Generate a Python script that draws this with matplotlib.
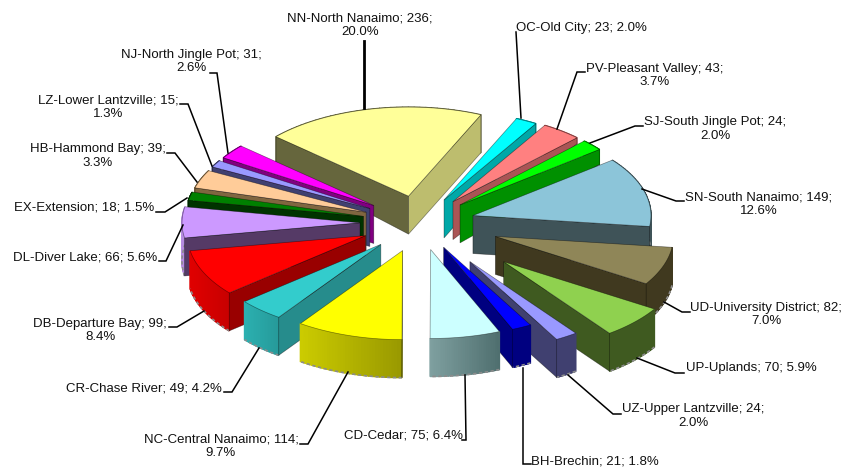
#Exploded 3D look pie chart of residents per neighbourhood.
import numpy as np
import matplotlib
matplotlib.use("Agg")
import matplotlib.pyplot as plt
from matplotlib.patches import Polygon

plt.rcParams['font.family'] = ['Liberation Sans', 'DejaVu Sans']

#The data, clockwise from the top of the pie.
names = ["OC-Old City", "PV-Pleasant Valley", "SJ-South Jingle Pot", "SN-South Nanaimo",
         "UD-University District", "UP-Uplands", "UZ-Upper Lantzville", "BH-Brechin",
         "CD-Cedar", "NC-Central Nanaimo", "CR-Chase River", "DB-Departure Bay",
         "DL-Diver Lake", "EX-Extension", "HB-Hammond Bay", "LZ-Lower Lantzville",
         "NJ-North Jingle Pot", "NN-North Nanaimo"]
counts = [23, 43, 24, 149, 82, 70, 24, 21, 75, 114, 49, 99, 66, 18, 39, 15, 31, 236]
percents = ["2.0%", "3.7%", "2.0%", "12.6%", "7.0%", "5.9%", "2.0%", "1.8%", "6.4%",
            "9.7%", "4.2%", "8.4%", "5.6%", "1.5%", "3.3%", "1.3%", "2.6%", "20.0%"]

#How far each slice is pulled out of the pie.
explode = [52, 54, 54, 55, 80, 114, 92, 54, 54, 58, 58, 60, 60, 58, 58, 58, 58, 55]

#Colours of the top, of the two straight walls and of the curved wall (left to right).
top_cols = ["#00FFFF", "#FF8080", "#00FF00", "#8CC5D9", "#8F8658", "#8FD14F", "#9999FF", "#0000FF",
            "#CCFFFF", "#FFFF00", "#33CCCC", "#FF0000", "#CC99FF", "#008000", "#FFCC99", "#9999FF",
            "#FF00FF", "#FFFF99"]
start_cols = ["#00A8A8", "#AA5555", "#009000", "#3F5358", "#40391F", "#3F5A20", "#404070", "#000080",
              "#6E9090", "#A8A800", "#268C8C", "#990000", "#553A66", "#003300", "#806640", "#404070",
              "#800080", "#66663D"]
end_cols = ["#00A8A8", "#AA5555", "#009000", "#3F5358", "#40391F", "#3F5A20", "#404070", "#000080",
            "#6E9090", "#A8A800", "#268C8C", "#990000", "#553A66", "#003300", "#806640", "#404070",
            "#800080", "#BDBD6E"]
outer_left = ["#00A8A8", "#AA5555", "#009000", "#3F5358", "#40391F", "#3F5A20", "#404070", "#000080",
              "#7FA0A0", "#CCCC00", "#2BB0B0", "#E00000", "#B58BE0", "#003300", "#806640", "#404070",
              "#800080", "#66663D"]
outer_right = ["#00A8A8", "#AA5555", "#009000", "#3F5358", "#40391F", "#3F5A20", "#404070", "#000080",
               "#4F6F6F", "#999900", "#269A9A", "#C80000", "#B58BE0", "#003300", "#806640", "#404070",
               "#800080", "#66663D"]

#The wall gets shorter towards the rim on the far slices.
rim_h_start = [38, 38, 38, 38, 38, 38, 38, 38, 38, 38, 38, 38, 38, 38, 38, 38, 38, 28]
rim_h_end = [10, 6, 15, 38, 38, 38, 38, 38, 38, 38, 38, 38, 38, 38, 38, 38, 38, 38]

#Where the data labels sit and the leader lines that join them to their slice.
label_xy = [(581, 28), (655, 75.5), (715, 129), (759, 204.5), (766, 314.5), (751, 368), (693, 416),
            (595, 461), (404, 436), (221, 446.5), (144, 388.5), (100, 330.5), (85, 257), (84, 207),
            (98, 156), (108, 107), (191, 61.5), (360, 25.5)]
one_line = [0, 5, 7, 8, 10, 12, 13]
leaders = [[(516, 32), (521, 118)],
           [(585, 72), (577, 72), (557, 129)],
           [(643, 126), (635, 126), (590, 143)],
           [(684, 201), (676, 201), (642, 189)],
           [(690, 312), (682, 312), (664, 302)],
           [(684, 373), (675, 373), (637, 358)],
           [(621, 414), (613, 414), (568, 375)],
           [(523, 368), (523, 464), (531, 464)],
           [(465, 375), (466, 440), (462, 440)],
           [(300, 444), (308, 444), (348, 372)],
           [(224, 392), (232, 392), (259, 348)],
           [(169, 327), (177, 327), (204, 311)],
           [(159, 261), (166, 261), (183, 225)],
           [(156, 212), (165, 212), (187, 198)],
           [(167, 153), (175, 153), (197, 182)],
           [(180, 104), (188, 104), (212, 166)],
           [(210, 73), (217, 73), (228, 153)],
           [(364, 41), (364, 108)]]

#The pie itself, in pixels of the picture.
center_x, center_y = 420, 223
radius = 178
squash = 0.5
first_angle = 24
apex_h = 38


def point(theta, r, ox, oy):
    t = np.radians(theta)
    return ox + r * np.sin(t), oy - r * squash * np.cos(t)


def mix(c1, c2, f):
    a = np.array(matplotlib.colors.to_rgb(c1))
    b = np.array(matplotlib.colors.to_rgb(c2))
    return tuple(a + (b - a) * f)


fig = plt.figure(figsize=(8.44, 4.68), dpi=100)
ax = fig.add_axes([0, 0, 1, 1])
ax.set_xlim(0, 844)
ax.set_ylim(468, 0)
ax.axis("off")

sweeps = np.array(counts) / sum(counts) * 360
starts = first_angle + np.concatenate(([0], np.cumsum(sweeps)[:-1]))
edge = (0, 0, 0, 0.45)

#Slices furthest round from the front of the pie get painted first.
mids = (starts + sweeps / 2) % 360
paint_order = np.argsort(-np.abs(mids - 180))

for i in paint_order:
    ox, oy = point(mids[i], explode[i], center_x, center_y)
    thetas = np.linspace(starts[i], starts[i] + sweeps[i], 40)
    rim = np.array([point(t, radius, ox, oy) for t in thetas])
    rim_h = np.linspace(rim_h_start[i], rim_h_end[i], len(thetas))

    #curved wall, in small pieces to get the shading across it
    for k in range(len(thetas) - 1):
        quad = [rim[k], rim[k + 1], rim[k + 1] + [0, rim_h[k + 1]], rim[k] + [0, rim_h[k]]]
        f = (rim[k, 0] - rim[:, 0].min()) / max(np.ptp(rim[:, 0]), 1)
        col = mix(outer_left[i], outer_right[i], f)
        ax.add_patch(Polygon(quad, closed=True, facecolor=col, edgecolor=col, linewidth=1.0))
    ax.plot(rim[:, 0], rim[:, 1] + rim_h, color="#8C8C8C", linewidth=1.2, linestyle=(0, (2, 1.5)),
            zorder=1)

    #straight walls, only the ones that face the viewer
    apex = np.array([ox, oy])
    if np.sin(np.radians(starts[i])) < 0:
        ax.add_patch(Polygon([apex, rim[0], rim[0] + [0, rim_h[0]], apex + [0, apex_h]], closed=True,
                             facecolor=start_cols[i], edgecolor=edge, linewidth=0.5))
    if np.sin(np.radians(starts[i] + sweeps[i])) > 0:
        ax.add_patch(Polygon([apex, rim[-1], rim[-1] + [0, rim_h[-1]], apex + [0, apex_h]], closed=True,
                             facecolor=end_cols[i], edgecolor=edge, linewidth=0.5))

    top = np.vstack([apex, rim])
    ax.add_patch(Polygon(top, closed=True, facecolor=top_cols[i], edgecolor=edge, linewidth=0.5))

for i, line in enumerate(leaders):
    xs = [p[0] for p in line]
    ys = [p[1] for p in line]
    width = 2 if names[i].startswith("NN") else 1.1
    ax.plot(xs, ys, color="black", linewidth=width, solid_joinstyle="miter")

for i in range(len(names)):
    if i in one_line:
        txt = "%s; %d; %s" % (names[i], counts[i], percents[i])
    else:
        txt = "%s; %d;\n%s" % (names[i], counts[i], percents[i])
    ax.text(label_xy[i][0], label_xy[i][1], txt, ha="center", va="center", fontsize=9.5,
            linespacing=1.2, color="#111111")

fig.savefig("out.png", dpi=100)
